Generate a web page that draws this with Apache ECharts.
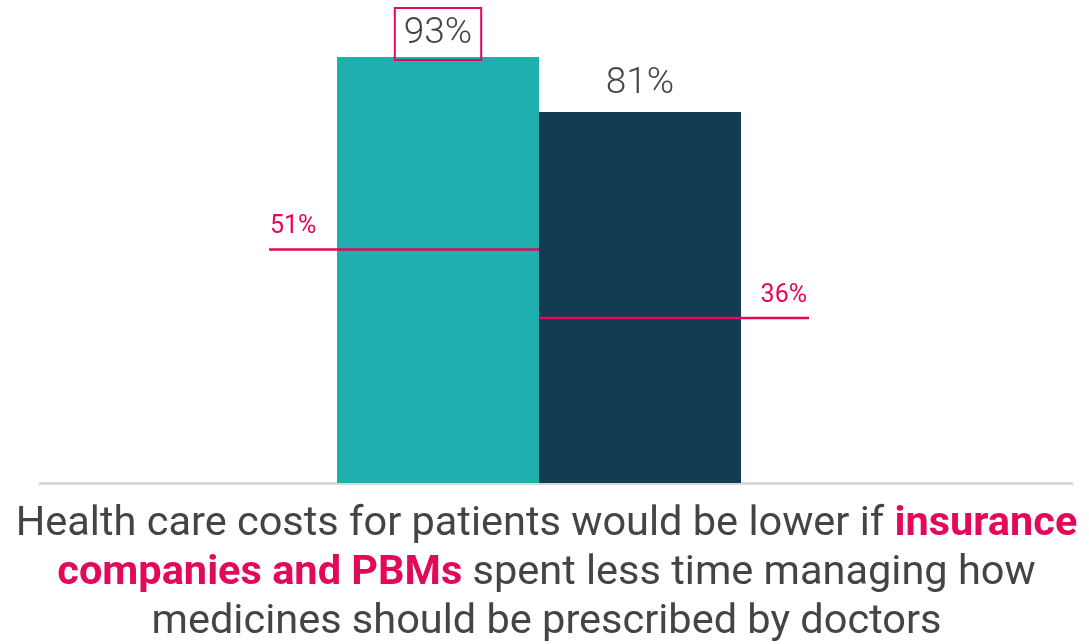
<!DOCTYPE html>
<html>
<head>
<meta charset="utf-8">
<script src="https://cdn.jsdelivr.net/npm/echarts@6/dist/echarts.min.js"></script>
<style>
  html, body { margin: 0; padding: 0; background: #fff; }
  #chart { width: 1089px; height: 644px; }
</style>
</head>
<body>
<div id="chart"></div>
<script>
// data
const categories = ['Health care costs for patients would be lower if {b|insurance}\n{b|companies and PBMs} spent less time managing how\nmedicines should be prescribed by doctors']
const barValues = [93, 81]
const benchmarkValues = [51, 36]

const TEAL = '#1fafae'
const NAVY = '#123d50'
const PINK = '#e2085a'
const TEXT = '#444444'
const BAR_W = 202
const OVERHANG = 68

const chart = echarts.init(document.getElementById('chart'))

// bars + benchmark lines
chart.setOption({
  animation: false,
  grid: [
    {left: 6, right: 17, top: 25, bottom: 161, outerBoundsMode: 'none'},
    {left: 40, right: 17, top: 25, bottom: 161, outerBoundsMode: 'none'}
  ],
  xAxis: [
    {
      type: 'category',
      gridIndex: 0,
      data: categories,
      axisLine: {show: false},
      axisTick: {show: false},
      axisLabel: {
        interval: 0,
        margin: 17,
        padding: [0, 0, 0, 15],
        fontFamily: 'Roboto',
        fontSize: 41.5,
        lineHeight: 49,
        color: TEXT,
        rich: {
          b: {fontFamily: 'Roboto', fontSize: 41.5, lineHeight: 49, fontWeight: 'bold', color: PINK}
        }
      }
    },
    {
      type: 'category',
      gridIndex: 1,
      data: [''],
      axisLine: {show: true, lineStyle: {color: '#d9d9d9', width: 3}},
      axisTick: {show: false},
      axisLabel: {show: false}
    }
  ],
  yAxis: [
    {type: 'value', gridIndex: 0, min: 0, max: 100, show: false},
    {type: 'value', gridIndex: 1, min: 0, max: 100, show: false}
  ],
  series: [
    {
      type: 'bar',
      barWidth: BAR_W,
      barGap: '0%',
      z: 2,
      data: [{
        value: barValues[0],
        itemStyle: {color: TEAL},
        label: {
          show: true,
          position: 'top',
          distance: -3,
          formatter: '{c}%',
          fontFamily: 'Roboto',
          fontWeight: 300,
          fontSize: 37,
          lineHeight: 38,
          color: TEXT,
          borderColor: PINK,
          borderWidth: 2,
          padding: [7, 9, 7, 9]
        }
      }]
    },
    {
      type: 'bar',
      barWidth: BAR_W,
      barGap: '0%',
      z: 2,
      data: [{
        value: barValues[1],
        itemStyle: {color: NAVY},
        label: {
          show: true,
          position: 'top',
          distance: 9,
          formatter: '{c}%',
          fontFamily: 'Roboto',
          fontWeight: 300,
          fontSize: 37,
          lineHeight: 38,
          color: TEXT
        }
      }]
    },
    {
      type: 'custom',
      z: 5,
      data: benchmarkValues.map((v, i) => [0, v, i]),
      renderItem: (params, api) => {
        const val = api.value(1)
        const left = api.value(2) === 0
        const c = api.coord([0, val])
        const x1 = left ? c[0] - BAR_W - OVERHANG : c[0]
        const x2 = left ? c[0] : c[0] + BAR_W + OVERHANG
        return {
          type: 'group',
          children: [
            {
              type: 'line',
              shape: {x1: x1, y1: c[1], x2: x2, y2: c[1]},
              style: {stroke: PINK, lineWidth: 2.5}
            },
            {
              type: 'text',
              x: left ? x1 + 1 : x2 - 2,
              y: c[1] - 10,
              style: {
                text: val + '%',
                fill: PINK,
                fontFamily: 'Roboto',
                fontSize: 25,
                align: left ? 'left' : 'right',
                verticalAlign: 'bottom'
              }
            }
          ]
        }
      }
    }
  ]
})
</script>
</body>
</html>
